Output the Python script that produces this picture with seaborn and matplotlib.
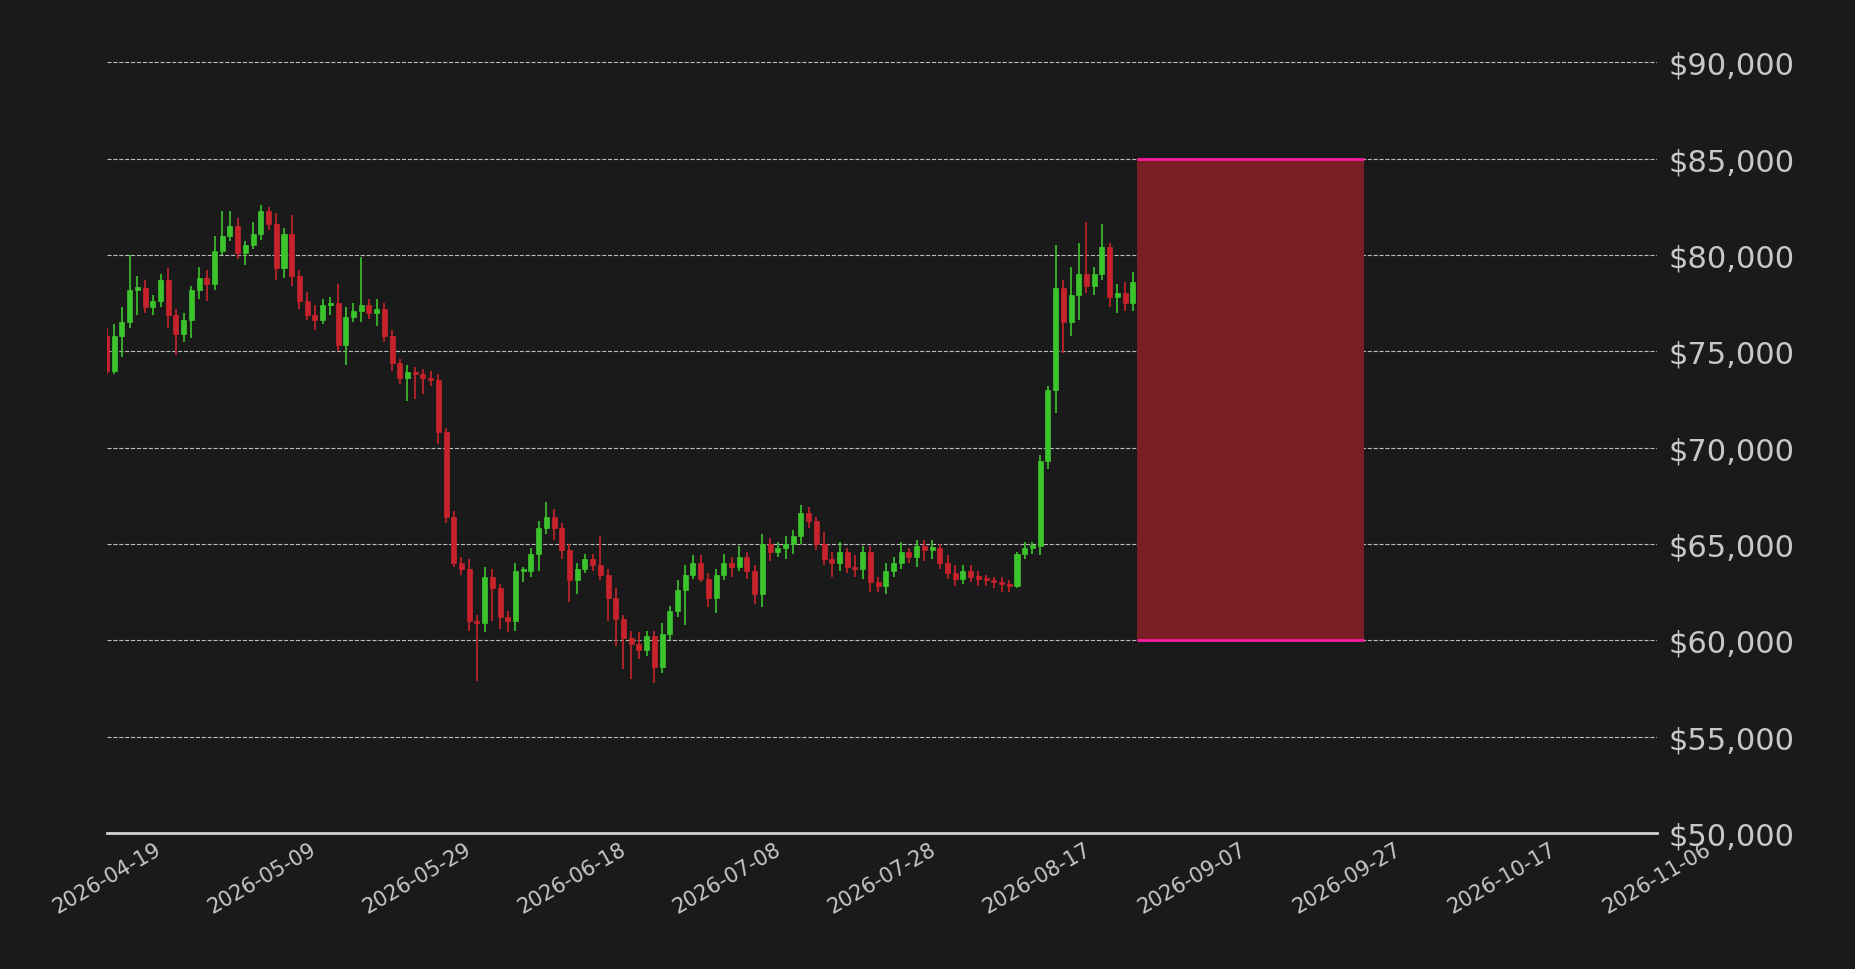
import numpy as np
import pandas as pd
import seaborn as sns
import matplotlib.pyplot as plt
import matplotlib.dates as mdates

# --- data (thousands of USD), one candle per day from 2026-04-19 ---
first_open = 75.8
closes = [
    74.0, 75.8, 76.5, 78.2, 78.3, 77.3, 77.6, 78.7, 76.9, 75.9, 76.6, 78.2,
    78.8, 78.5, 80.2, 81.0, 81.5, 80.1, 80.5, 81.1, 82.3, 81.6, 79.3, 81.1,
    78.9, 77.6, 76.9, 76.6, 77.4, 77.5, 75.3, 76.8, 77.1, 77.4, 77.0, 77.2,
    75.8, 74.4, 73.6, 73.9, 73.8, 73.6, 73.5, 70.8, 66.4, 64.0, 63.7, 61.0,
    60.9, 63.3, 62.7, 61.2, 61.0, 63.6, 63.6, 64.5, 65.8, 66.4, 65.8, 64.7,
    63.1, 63.7, 64.2, 63.9, 63.4, 62.2, 61.1, 60.1, 59.8, 59.5, 60.2, 58.6,
    60.3, 61.5, 62.6, 63.4, 64.0, 63.2, 62.2, 63.4, 64.0, 63.8, 64.3, 63.6,
    62.4, 65.0, 64.6, 64.8, 65.0, 65.4, 66.6, 66.2, 65.0, 64.2, 64.0, 64.6,
    63.8, 63.7, 64.6, 63.0, 62.8, 63.6, 64.0, 64.6, 64.3, 64.9, 64.7, 64.8,
    64.0, 63.5, 63.2, 63.6, 63.3, 63.2, 63.1, 63.0, 62.9, 62.8, 64.5, 64.8, 64.9, 69.3,
    73.0, 78.3, 76.5, 77.9, 79.0, 78.4, 79.0, 80.4, 77.8, 78.0, 77.5, 78.6,
]
wick_up = [
    0.4, 0.6, 0.8, 1.8, 0.6, 0.4, 0.3, 0.3, 0.6, 0.3, 0.4, 0.2,
    0.6, 0.4, 0.8, 1.3, 0.8, 0.4, 0.2, 0.6, 0.3, 0.2, 0.6, 0.3,
    1.0, 0.3, 0.5, 0.5, 0.3, 0.3, 1.0, 0.5, 0.4, 2.5, 0.3, 0.5,
    0.3, 0.3, 0.2, 0.4, 0.3, 0.3, 0.4, 0.3, 0.2, 0.3, 0.3, 0.5,
    0.3, 0.5, 0.4, 0.2, 0.3, 0.4, 0.2, 0.3, 0.4, 0.8, 0.4, 0.3,
    0.3, 0.3, 0.3, 0.3, 1.5, 0.3, 0.5, 0.2, 0.4, 0.6, 0.3, 0.3,
    0.6, 0.3, 0.5, 0.5, 0.4, 0.4, 0.3, 0.3, 0.5, 0.3, 0.6, 0.3,
    0.3, 0.5, 0.3, 0.3, 0.4, 0.3, 0.4, 0.3, 0.2, 0.6, 0.4, 0.5,
    0.2, 0.6, 0.3, 0.3, 0.3, 0.4, 0.3, 0.5, 0.2, 0.3, 0.3, 0.4,
    0.2, 0.4, 0.4, 0.3, 0.3, 0.3, 0.2, 0.2, 0.3, 0.2, 0.1, 0.3, 0.2, 0.3,
    0.2, 2.2, 0.4, 1.5, 1.6, 2.7, 0.4, 1.2, 0.2, 0.5, 0.6, 0.5,
]
wick_dn = [
    0.2, 0.2, 1.1, 0.3, 1.3, 0.3, 0.4, 0.3, 0.7, 1.1, 0.4, 0.9,
    0.5, 0.9, 0.3, 0.2, 0.3, 0.3, 0.6, 0.2, 0.3, 0.3, 0.6, 0.5,
    0.5, 0.4, 0.3, 0.5, 0.2, 0.5, 0.3, 1.0, 0.3, 0.6, 0.3, 0.7,
    0.3, 0.4, 0.3, 1.2, 1.3, 0.8, 0.3, 0.6, 0.3, 0.2, 0.3, 0.5,
    3.0, 0.5, 1.7, 0.6, 0.6, 0.5, 0.6, 0.3, 0.9, 0.3, 0.6, 0.5,
    1.1, 0.7, 0.2, 0.3, 0.3, 1.2, 1.4, 1.6, 1.8, 0.5, 0.3, 0.8,
    0.3, 0.3, 0.3, 1.8, 0.2, 0.2, 0.5, 0.8, 0.3, 0.5, 0.2, 0.4,
    0.5, 0.7, 0.5, 0.3, 0.6, 0.5, 0.4, 0.4, 0.3, 0.3, 0.7, 0.4,
    0.3, 0.4, 0.5, 0.5, 0.3, 0.4, 0.3, 0.3, 0.3, 0.5, 0.6, 0.5,
    0.3, 0.3, 0.4, 0.3, 0.3, 0.4, 0.3, 0.3, 0.4, 0.3, 0.1, 0.3, 0.3, 0.5,
    0.4, 1.2, 1.6, 0.7, 1.3, 0.4, 0.5, 0.3, 0.5, 0.8, 0.4, 0.4,
]
start_date = "2026-04-19"
xlim_start, xlim_end = "2026-04-19", "2026-11-06"
tick_labels = ["2026-04-19", "2026-05-09", "2026-05-29", "2026-06-18", "2026-07-08", "2026-07-28",
               "2026-08-17", "2026-09-07", "2026-09-27", "2026-10-17", "2026-11-06"]
zone_start, zone_end = "2026-08-30 12:00", "2026-09-29"
zone_low, zone_high = 60000, 85000

closes = np.array(closes) * 1000
opens = np.concatenate([[first_open * 1000], closes[:-1]])
highs = np.maximum(opens, closes) + np.array(wick_up) * 1000
lows = np.minimum(opens, closes) - np.array(wick_dn) * 1000
dates = pd.date_range(start_date, periods=len(closes), freq="D")
df = pd.DataFrame({"date": dates, "open": opens, "close": closes, "high": highs, "low": lows})
df["up"] = df["close"] >= df["open"]

# --- style ---
bg = "#1a1a1a"
green, red = "#3cc42c", "#c8232c"
sns.set_theme(style="dark", rc={"axes.facecolor": bg, "figure.facecolor": bg})
plt.rcParams["font.family"] = ["DejaVu Sans"]

fig = plt.figure(figsize=(18.56, 9.7), dpi=100)
ax = fig.add_axes([0.0574, 0.1404, 0.8356, 0.834])

x = mdates.date2num(df["date"])
cols = np.where(df["up"], green, red)
ax.vlines(x, df["low"], df["high"], colors=cols, linewidth=1.2, zorder=3)
body_bottom = np.minimum(df["open"], df["close"])
body_h = np.maximum(np.abs(df["close"] - df["open"]), 120)
ax.bar(x, body_h, bottom=body_bottom, width=0.65, color=cols, edgecolor=cols, linewidth=0.5, zorder=4)

# zone
zs, ze = mdates.date2num(pd.Timestamp(zone_start)), mdates.date2num(pd.Timestamp(zone_end))
ax.fill_between([zs, ze], zone_low, zone_high, color="#7a1f26", zorder=5, linewidth=0)
ax.hlines([zone_low, zone_high], zs, ze, colors="#ff1aa0", linewidth=2, zorder=6)

x0, x1 = mdates.date2num(pd.Timestamp(xlim_start)), mdates.date2num(pd.Timestamp(xlim_end))
ax.set_xlim(x0, x1)
ax.set_ylim(50000, 92000)
ax.set_xticks(np.linspace(x0, x1, len(tick_labels)))
ax.set_xticklabels(tick_labels, rotation=30, ha="center", fontsize=15, color="#c8c8c8")
ax.set_yticks(range(50000, 90001, 5000))
ax.yaxis.tick_right()
ax.set_yticklabels([f"${v:,}" for v in range(50000, 90001, 5000)], fontsize=22, color="#c8c8c8")
ax.tick_params(axis="x", length=0, pad=4)
ax.tick_params(axis="y", length=0, pad=8)
ax.grid(axis="y", color="#d0d0d0", linestyle="--", linewidth=0.8, alpha=0.9)
ax.grid(axis="x", visible=False)
for s in ["top", "right", "left"]:
    ax.spines[s].set_visible(False)
ax.spines["bottom"].set_color("#d0d0d0")
ax.spines["bottom"].set_linewidth(2)
ax.set_axisbelow(True)

fig.savefig("out.png", dpi=100, facecolor=bg)
